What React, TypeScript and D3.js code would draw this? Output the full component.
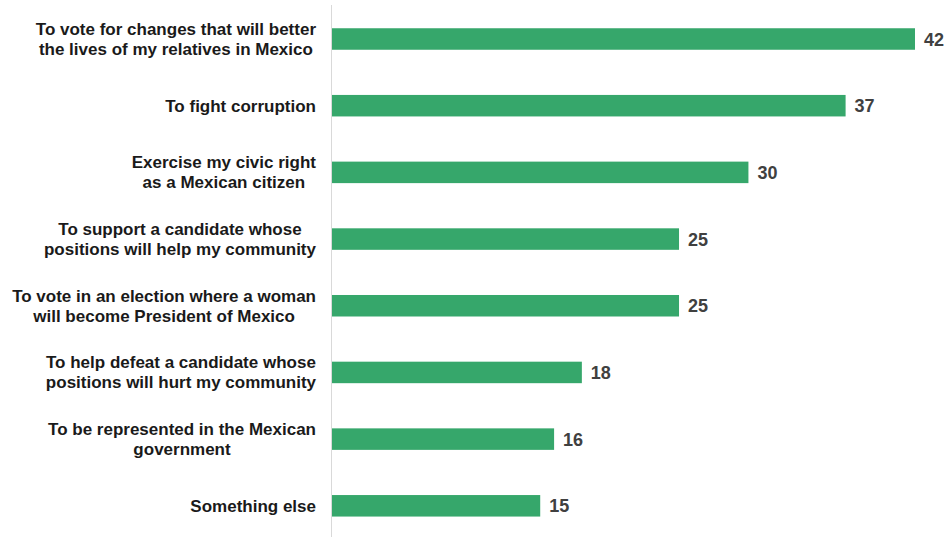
import React, { useEffect, useRef } from "react";
import * as d3 from "d3";

const categories: string[][] = [
  ["To vote for changes that will better", "the lives of my relatives in Mexico"],
  ["To fight corruption"],
  ["Exercise my civic right", "as a Mexican citizen"],
  ["To support a candidate whose", "positions will help my community"],
  ["To vote in an election where a woman", "will become President of Mexico"],
  ["To help defeat a candidate whose", "positions will hurt my community"],
  ["To be represented in the Mexican", "government"],
  ["Something else"],
];
const values: number[] = [42, 37, 30, 25, 25, 18, 16, 15];

const W = 951;
const H = 537;

export default function App() {
  const ref = useRef<SVGSVGElement | null>(null);
  useEffect(() => {
    const svg = d3.select(ref.current);
    svg.selectAll("*").remove();
    const ids = categories.map((_, i) => String(i));
    const x = d3.scaleLinear().domain([0, 42]).range([332, 915]);
    const y = d3.scalePoint<string>().domain(ids).range([39, 505.8]);
    const barH = 21.5;
    const font = "'Liberation Sans', Arial, sans-serif";

    svg
      .append("line")
      .attr("x1", 331.5)
      .attr("x2", 331.5)
      .attr("y1", 5)
      .attr("y2", H)
      .attr("stroke", "#d9d9d9")
      .attr("stroke-width", 1);

    svg
      .selectAll("rect.bar")
      .data(values)
      .join("rect")
      .attr("class", "bar")
      .attr("x", x(0))
      .attr("y", (_, i) => (y(ids[i]) as number) - barH / 2)
      .attr("width", (d) => x(d) - x(0))
      .attr("height", barH)
      .attr("fill", "#36a76b");

    svg
      .selectAll("text.val")
      .data(values)
      .join("text")
      .attr("class", "val")
      .attr("x", (d) => x(d) + 9)
      .attr("y", (_, i) => (y(ids[i]) as number) + 6.5)
      .attr("font-family", font)
      .attr("font-weight", "bold")
      .attr("font-size", 18)
      .attr("fill", "#404040")
      .text((d) => d);

    const right = 316;
    const lineH = 20;
    categories.forEach((lines, i) => {
      const cy = y(ids[i]) as number;
      const g = svg.append("g");
      const texts = lines.map((l, j) =>
        g
          .append("text")
          .attr("font-family", font)
          .attr("font-weight", "bold")
          .attr("font-size", 17)
          .attr("fill", "#1a1a1a")
          .attr("text-anchor", "middle")
          .attr("y", cy + 6 + (j - (lines.length - 1) / 2) * lineH)
          .text(l)
      );
      const widths = texts.map((t) => (t.node() as SVGTextElement).getComputedTextLength());
      const maxW = Math.max(...widths);
      texts.forEach((t) => t.attr("x", right - maxW / 2));
    });
  }, []);
  return (
    <svg
      ref={ref}
      width={W}
      height={H}
      style={{ position: "absolute", left: 0, top: 0, background: "#fff" }}
    />
  );
}
